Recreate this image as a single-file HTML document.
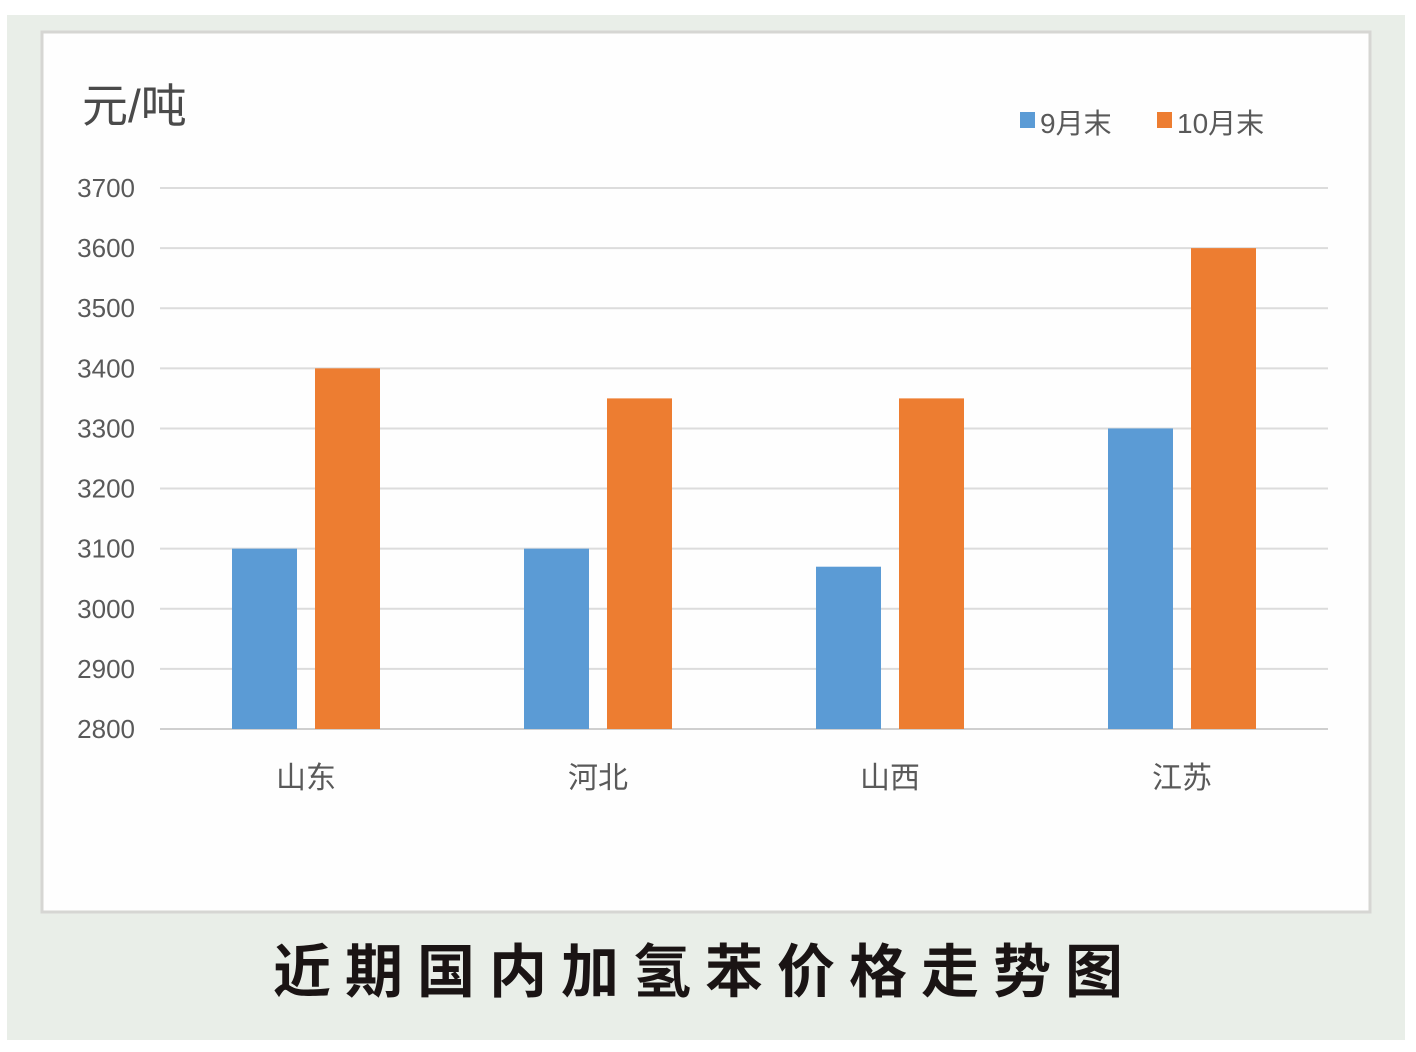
<!DOCTYPE html>
<html><head><meta charset="utf-8"><style>
body{margin:0;width:1416px;height:1052px;background:#fff;overflow:hidden}
svg{display:block}
text{font-family:"Liberation Sans","Noto Sans CJK SC",sans-serif}
</style></head><body>
<svg width="1416" height="1052">
<rect x="7" y="15" width="1398" height="1025" fill="#e9eee8"/>
<rect x="42" y="32" width="1328" height="880" fill="#fefefe" stroke="#d6d6d3" stroke-width="3"/>
<text x="82" y="122" font-size="46" fill="#4a4a4a">元/吨</text>
<g>
<rect x="1020" y="112" width="15" height="16" fill="#5b9bd5"/>
<text x="1040" y="133" font-size="28" fill="#595959">9月末</text>
<rect x="1157" y="112" width="15" height="16" fill="#ed7d31"/>
<text x="1177" y="133" font-size="28" fill="#595959">10月末</text>
</g>
<g id="grid"></g><g id="bars"></g><g id="cats"></g>
<text x="705" y="992" font-size="58" fill="#1a1414" text-anchor="middle" letter-spacing="14" font-weight="bold">近期国内加氢苯价格走势图</text>
</svg>
<script>
const categories=["山东","河北","山西","江苏"];
const sepValues=[3100,3100,3070,3300];
const octValues=[3400,3350,3350,3600];
const ticks=[2800,2900,3000,3100,3200,3300,3400,3500,3600,3700];
const NS="http://www.w3.org/2000/svg";
const x0=160,x1=1328,yTop=188,yBot=729,vMin=2800,vMax=3700;
const y=v=>yBot-(v-vMin)/(vMax-vMin)*(yBot-yTop);
const band=(x1-x0)/categories.length;
const cx=i=>x0+band*(i+0.5);
function mk(t,a,p){const e=document.createElementNS(NS,t);for(const k in a)e.setAttribute(k,a[k]);p.appendChild(e);return e;}
const g=document.getElementById('grid');
ticks.forEach(t=>{
 const l=mk('line',{x1:x0,x2:x1,y1:y(t),y2:y(t),stroke:t===vMin?'#cfcfcf':'#dcdcdc','stroke-width':2},g);
 
 
 const tx=mk('text',{x:135,y:y(t)+9,'font-size':26,fill:'#595959','text-anchor':'end'},g);
 tx.textContent=t;
 
 
});
const b=document.getElementById('bars'),c=document.getElementById('cats');
const bw=65,gap=18;
categories.forEach((cat,i)=>{
 const r1=mk('rect',{x:cx(i)-gap/2-bw,y:y(sepValues[i]),width:bw,height:yBot-y(sepValues[i]),fill:'#5b9bd5'},b);
 
 
 const r2=mk('rect',{x:cx(i)+gap/2,y:y(octValues[i]),width:bw,height:yBot-y(octValues[i]),fill:'#ed7d31'},b);
 
 
 const t=mk('text',{x:cx(i),y:788,'font-size':30,fill:'#595959','text-anchor':'middle'},c);
 t.textContent=cat;
 
 
});
</script>
</body></html>
